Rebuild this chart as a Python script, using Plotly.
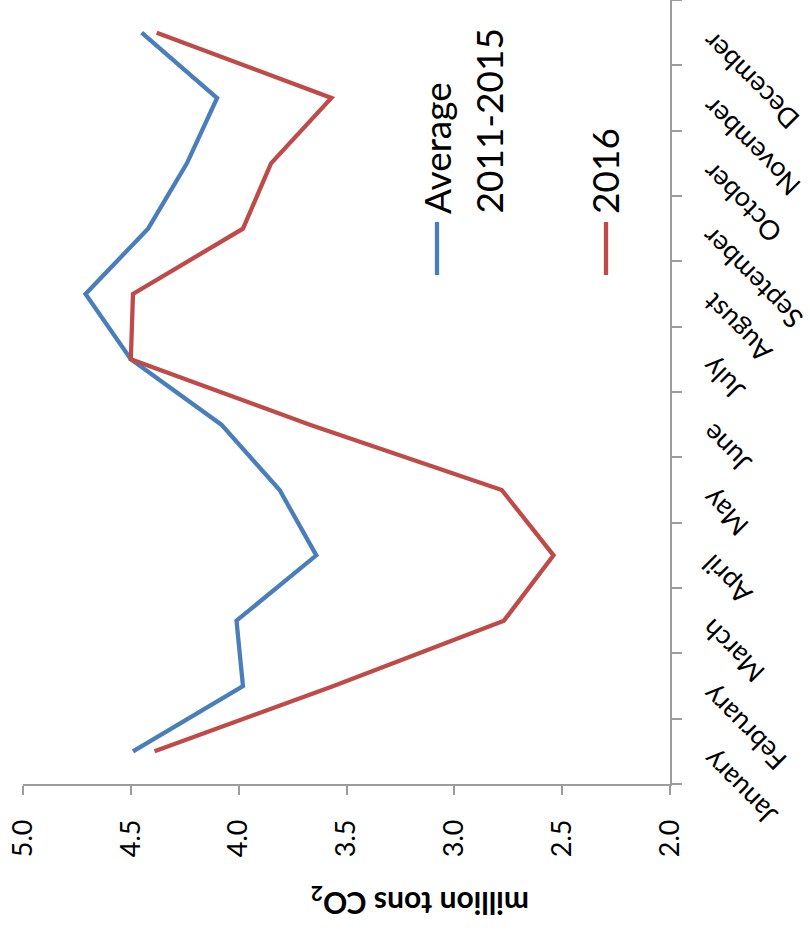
import plotly.graph_objects as go

# Monthly CO2 values (million tons)
months = ["January", "February", "March", "April", "May", "June",
          "July", "August", "September", "October", "November", "December"]
avg_2011_2015 = [4.49, 3.98, 4.01, 3.64, 3.81, 4.08, 4.50, 4.71, 4.42, 4.24, 4.10, 4.45]
year_2016 = [4.39, 3.56, 2.77, 2.54, 2.78, 3.67, 4.50, 4.49, 3.98, 3.85, 3.57, 4.38]
value_ticks = [5.0, 4.5, 4.0, 3.5, 3.0, 2.5, 2.0]
series_names = ["Average", "2011-2015", "2016"]
axis_title = "million tons CO<sub>2</sub>"

BLUE = "#4A7EBB"
RED = "#BE4B48"
AXIS = "#9C9C9C"
FONT = "Lato"

W, H = 810, 930
L, R, T, B = 23, 140, 0, 146
PW, PH = W - L - R, H - T - B


def px(xpix):
    return (xpix - L) / PW


def py(ypix):
    return (H - B - ypix) / PH


fig = go.Figure()
fig.add_trace(go.Scatter(x=avg_2011_2015, y=months, mode="lines",
                         line=dict(color=BLUE, width=4.3), showlegend=False))
fig.add_trace(go.Scatter(x=year_2016, y=months, mode="lines",
                         line=dict(color=RED, width=4.3), showlegend=False))

fig.update_layout(
    width=W, height=H,
    margin=dict(l=L, r=R, t=T, b=B, autoexpand=False),
    paper_bgcolor="white", plot_bgcolor="white",
    font=dict(family=FONT, color="black"),
    xaxis=dict(range=[5.0, 2.0], tickvals=value_ticks, tickformat=".1f",
               tickangle=-90, ticks="outside", ticklen=9, tickwidth=1.5,
               tickcolor=AXIS, showline=True, linecolor=AXIS, linewidth=1.5,
               showgrid=False, zeroline=False, automargin=False,
               tickfont=dict(size=27, family=FONT), ticklabelstandoff=14),
    yaxis=dict(type="category", categoryorder="array", categoryarray=months,
               range=[-0.5, 11.5], side="right", tickson="boundaries",
               ticks="outside", ticklen=10, tickwidth=1.5, tickcolor=AXIS,
               showline=True, linecolor=AXIS, linewidth=1.5,
               showticklabels=False, showgrid=False, zeroline=False,
               automargin=False),
)

# Rotated month labels, text ending at the category axis
for m in months:
    fig.add_annotation(text=m, xref="paper", yref="y", x=px(692), y=m,
                       xanchor="left", yanchor="top", yshift=10,
                       textangle=-135, showarrow=False,
                       font=dict(size=27, family=FONT, color="black"))

# Value axis title
fig.add_annotation(text=axis_title, xref="paper", yref="paper",
                   x=px(420), y=py(902), xanchor="center", yanchor="middle",
                   textangle=180, showarrow=False,
                   font=dict(size=30, family=FONT, color="black", weight="bold"))

# Key: colored strokes with rotated labels
for name, xc in zip(series_names, [437, 488, 605]):
    fig.add_annotation(text=name, xref="paper", yref="paper",
                       x=px(xc), y=py(216), xanchor="center", yanchor="bottom",
                       textangle=-90, showarrow=False,
                       font=dict(size=37, family=FONT, color="black"))
for color, xc in [(BLUE, 437), (RED, 606)]:
    fig.add_shape(type="line", xref="paper", yref="paper",
                  x0=px(xc), x1=px(xc), y0=py(222), y1=py(275),
                  line=dict(color=color, width=4.3))

fig.write_html("out.html")
